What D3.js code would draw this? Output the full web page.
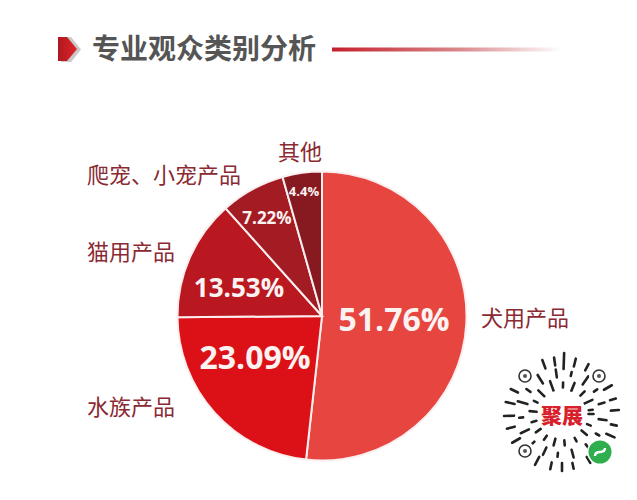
<!DOCTYPE html>
<html><head><meta charset="utf-8">
<script src="https://cdn.jsdelivr.net/npm/d3@7"></script>
<style>html,body{margin:0;padding:0;background:#fff}svg{display:block}</style></head>
<body><svg id="c" width="637" height="500"></svg>
<script>
const categories=["犬用产品","水族产品","猫用产品","爬宠、小宠产品","其他"];
const values=[51.76,23.09,13.53,7.22,4.4];
const valueLabels=["51.76%","23.09%","13.53%","7.22%","4.4%"];
const sliceColors=["#e64540","#dc1118","#b91820","#a31c24","#861a20"];
const labelFont=[32,32,26,17,13];
const title="专业观众类别分析";
// QR decoration: angle (deg), stroke length
const qrInner=[[0,5],[22,4],[40,7],[62,4],[85,5],[105,7],[125,5],[145,6],[165,5],[185,7],[205,4],[225,9],[250,12],[272,5],[292,9],[315,6],[335,9],[352,4]];
const qrMiddle=[[8,8],[30,4],[52,5],[75,8],[96,4],[115,8],[135,4],[155,9],[175,4],[196,10],[215,5],[238,10],[262,8],[283,4],[305,10],[325,4],[345,6]];
const qrOuter=[[-4,8],[12,6],[24,9],[60,7],[78,6],[90,8],[102,7],[118,9],[150,9],[165,8],[178,10],[192,9],[206,8],[250,9],[262,8],[272,16],[284,8],[298,7],[344,6],[330,9]];
const qrFinders=[[-37,-38],[37,-38],[-37,37]];

const svg=d3.select("#c");
const font="'Noto Sans CJK SC','Noto Sans',sans-serif";
const defs=svg.append("defs");
const g1=defs.append("linearGradient").attr("id","rule");
g1.append("stop").attr("offset",0).attr("stop-color","#c4202a");
g1.append("stop").attr("offset",0.55).attr("stop-color","#d9878a");
g1.append("stop").attr("offset",1).attr("stop-color","#fff");
const g2=defs.append("linearGradient").attr("id","mark");
g2.append("stop").attr("offset",0).attr("stop-color","#b01820");
g2.append("stop").attr("offset",1).attr("stop-color","#e0242a");

// header
svg.append("path").attr("d","M61 37 L71 37 L81 49.5 L71 62 L61 62 Z").attr("fill","#c9c9c9");
svg.append("path").attr("d","M58 37 L67 37 L77 49 L67 61 L58 61 Z").attr("fill","url(#mark)");
svg.append("text").attr("x",92).attr("y",59).attr("font-family",font).attr("font-weight",700)
  .attr("font-size",28).attr("textLength",224).attr("fill","#555").text(title);
svg.append("rect").attr("x",332).attr("y",47.5).attr("width",230).attr("height",4).attr("fill","url(#rule)");

// pie
const cx=322,cy=316,R=144.5;
const pie=d3.pie().sort(null)(values);
const arc=d3.arc().innerRadius(0).outerRadius(R);
const p=svg.append("g").attr("transform",`translate(${cx},${cy})`);
p.selectAll("path").data(pie).join("path").attr("d",arc)
 .attr("fill",(d,i)=>sliceColors[i]).attr("stroke","#fbeeee").attr("stroke-width",2);

// value labels
const valuePos=[[394,318],[255,356],[239,287],[267,217],[304,191]];
svg.selectAll("text.v").data(valueLabels).join("text").attr("class","v")
 .attr("x",(d,i)=>valuePos[i][0]).attr("y",(d,i)=>valuePos[i][1])
 .attr("text-anchor","middle").attr("dominant-baseline","central")
 .attr("font-family","'Open Sans',sans-serif").attr("font-weight",700)
 .attr("font-size",(d,i)=>labelFont[i]).attr("fill","#fbf3f1").text(d=>d);

// category labels
const catPos=[[481,316],[87,405],[87,250],[87,173],[278,150]];
svg.selectAll("text.c").data(categories).join("text").attr("class","c")
 .attr("x",(d,i)=>catPos[i][0]).attr("y",(d,i)=>catPos[i][1])
 .attr("dominant-baseline","central").attr("font-family",font)
 .attr("font-size",22).attr("fill","#8a2a32").text(d=>d);

// QR decoration
const q=svg.append("g").attr("transform","translate(562,414)");
const rad=Math.PI/180;
const spoke=(list,r)=>q.append("g").selectAll("line").data(list).join("line")
 .attr("x1",d=>(r-d[1]/2)*Math.cos(d[0]*rad)).attr("y1",d=>(r-d[1]/2)*Math.sin(d[0]*rad))
 .attr("x2",d=>(r+d[1]/2)*Math.cos(d[0]*rad)).attr("y2",d=>(r+d[1]/2)*Math.sin(d[0]*rad))
 .attr("stroke","#222").attr("stroke-width",2.6).attr("stroke-linecap","round");
spoke(qrInner,29);spoke(qrMiddle,41);spoke(qrOuter,53);
q.selectAll("circle.h").data(qrFinders).join("circle").attr("class","h")
 .attr("cx",d=>d[0]).attr("cy",d=>d[1]).attr("r",10).attr("fill","#fff");
q.selectAll("circle.f").data(qrFinders).join("circle").attr("class","f")
 .attr("cx",d=>d[0]).attr("cy",d=>d[1]).attr("r",6).attr("fill","#fff").attr("stroke","#333").attr("stroke-width",1.6);
q.selectAll("circle.d").data(qrFinders).join("circle").attr("class","d")
 .attr("cx",d=>d[0]).attr("cy",d=>d[1]).attr("r",2).attr("fill","#555");
q.append("circle").attr("r",24).attr("fill","#fff");
q.append("text").attr("text-anchor","middle").attr("dominant-baseline","central").attr("y",0)
 .attr("font-family",font).attr("font-weight",900).attr("font-size",21).attr("fill","#d8202a").text("聚展");
q.append("circle").attr("cx",38).attr("cy",38).attr("r",13).attr("fill","#fff");
q.append("circle").attr("cx",38).attr("cy",38).attr("r",11.5).attr("fill","#2fae4e");
q.append("path").attr("d","M33 42 q0 -4 5 -4 q5 0 5 -4").attr("fill","none").attr("stroke","#fff").attr("stroke-width",2.4);
</script></body></html>
